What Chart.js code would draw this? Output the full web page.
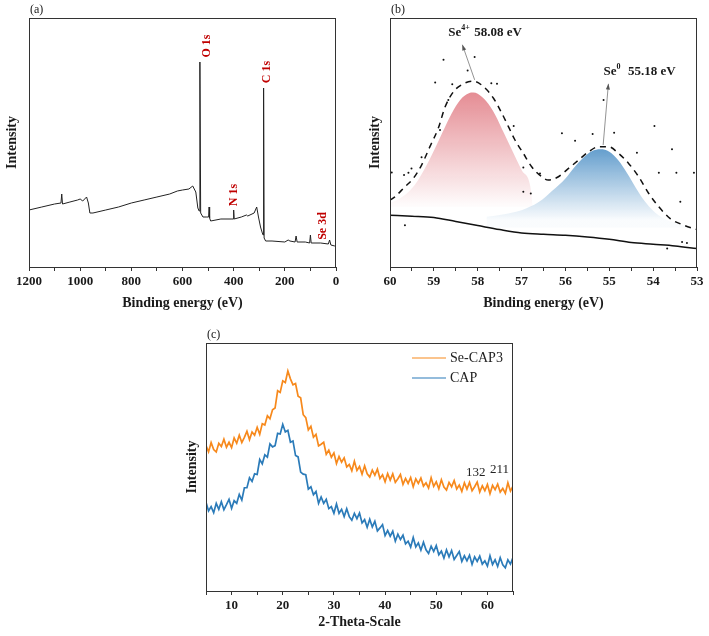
<!DOCTYPE html>
<html>
<head>
<meta charset="utf-8">
<script src="https://cdn.jsdelivr.net/npm/chart.js@4.4.1/dist/chart.umd.min.js"></script>
<style>
body { margin: 0; background: #fff; width: 709px; height: 636px; position: relative; overflow: hidden; }
canvas { position: absolute; }
</style>
</head>
<body>
<canvas id="chartA" width="350" height="316" style="left:0;top:0"></canvas>
<canvas id="chartB" width="346" height="316" style="left:363px;top:0"></canvas>
<canvas id="chartC" width="350" height="318" style="left:180px;top:318px"></canvas>
<script>
// (a) XPS survey spectrum
var surveyEnergy = [1200,1150,1100,1075,1072,1069,1040,1010,1000,990,975,968,962,950,900,850,800,750,700,650,620,600,575,560,548,540,535,532,529,520,505,498,496,494,490,450,410,402,400,398,370,350,345,320,310,303,295,288,285,283,281,275,250,200,187,180,160,156,152,120,103,100,97,60,30,25,20,5,0];
var surveyCounts = [57,60,63,64,73,63,65,67,68,66,70,64,54,54,57,60,64,67,70,73,76,77,78,81,75,59,56,205,54,50,50,50,60,49,46,48,48,48,57,48,50,52,51,54,60,50,40,34,32,179,29,26,26,25,27,26,25,31,25,25,24,32,24,24,23,27,22,21,20];

// (b) Se 3d high resolution
var hrEnergy = [60,59.5,59,58.5,58,57.5,57,56.5,56,55.5,55,54.5,54,53.5,53];
var hrBackground = [155,152,148,136,124,112,102,98,95,90,83,73,68,63,55];
var envEnergy = [60,59.89,59.66,59.47,59.28,59.09,58.9,58.74,58.55,58.33,58.1,57.87,57.64,57.45,57.3,57.15,56.96,56.77,56.54,56.39,56.16,55.93,55.7,55.47,55.24,55.02,54.79,54.56,54.33,54.1,53.87,53.61,53.3,53];
var envFit = [200,210,240,265,305,360,415,480,525,548,556,540,505,460,420,380,340,300,270,260,270,295,320,345,360,360,340,310,270,220,180,145,125,112];
var se4Energy = [60,59.8,59.6,59.4,59.2,59,58.8,58.6,58.4,58.2,58.1,58,57.8,57.6,57.4,57.2,57,56.8,56.75];
var se4Fit = [192,203,222,252,296,348,404,458,500,520,522,518,495,455,400,345,290,240,185];
var se0Energy = [57.8,57.4,57,56.6,56.3,56,55.8,55.6,55.4,55.2,55,54.8,54.6,54.4,54.2,54,53.8,53.6,53.4,53.2];
var se0Fit = [150,158,170,195,228,265,298,326,346,352,345,320,282,238,198,168,148,136,128,122];
var rawEnergy = [58.78,58.07,58.23,58.97,58.58,57.69,57.56,58.67,58.86,57.18,59.28,59.51,59.68,56.96,56.79,59.96,56.08,55.78,55.38,54.89,54.37,53.97,53.87,53.47,53.07,53.57,53.38,53.34,53.23,53.68,59.66,55.13,56.58,56.96,59.58];
var rawCounts = [620,628,588,552,547,550,548,500,410,422,328,295,275,298,220,283,400,378,398,402,342,422,282,282,282,352,195,75,72,55,125,500,280,225,282];

// (c) XRD
var twoTheta = [5,5.5,6,6.5,7,7.5,8,8.5,9,9.5,10,10.5,11,11.5,12,12.5,13,13.5,14,14.5,15,15.5,16,16.5,17,17.5,18,18.5,19,19.5,20,20.5,21,21.5,22,22.5,23,23.5,24,24.5,25,25.5,26,26.5,27,27.5,28,28.5,29,29.5,30,30.5,31,31.5,32,32.5,33,33.5,34,34.5,35,35.5,36,36.5,37,37.5,38,38.5,39,39.5,40,40.5,41,41.5,42,42.5,43,43.5,44,44.5,45,45.5,46,46.5,47,47.5,48,48.5,49,49.5,50,50.5,51,51.5,52,52.5,53,53.5,54,54.5,55,55.5,56,56.5,57,57.5,58,58.5,59,59.5,60,60.5,61,61.5,62,62.5,63,63.5,64,64.5,65];
var seCap3 = [438,419,447,426,419,445,435,457,433,448,432,461,445,469,447,463,481,456,479,469,493,472,504,500,528,519,546,551,603,598,633,628,663,639,621,625,587,582,531,522,485,496,463,472,437,442,448,412,424,403,416,384,405,388,401,374,381,362,391,363,375,352,377,353,343,364,349,367,339,350,329,354,334,353,327,338,351,321,339,324,342,314,338,324,340,316,326,310,341,315,329,308,335,313,304,327,314,333,307,319,300,326,307,327,302,314,328,298,317,302,321,293,318,305,322,298,309,294,326,301,316];
var cap = [267,241,254,236,264,246,269,245,260,276,249,272,264,291,274,311,311,341,330,353,351,396,383,410,403,443,434,438,475,473,502,479,484,448,452,408,404,358,352,350,307,314,290,300,264,283,264,276,248,254,234,262,234,246,224,248,224,213,234,218,235,205,215,192,216,193,210,181,190,200,167,182,165,180,150,171,155,168,142,150,132,161,133,145,123,147,124,113,135,119,137,109,120,99,124,103,122,95,107,119,89,106,91,108,80,103,89,105,81,91,75,106,80,94,74,100,79,70,94,81,101];
var seriesNames = ['Se-CAP3', 'CAP'];

function pts(xs, ys) {
    return xs.map(function (x, i) { return {x: x, y: ys[i]}; });
}

var serif = 'Liberation Serif';
var inkColor = '#1a1a1a';

function frame(letter, extra) {
    return {
        id: 'frame' + letter,
        afterDraw: function (chart) {
            var c = chart.ctx, a = chart.chartArea;
            c.save();
            c.strokeStyle = '#333';
            c.lineWidth = 1;
            c.strokeRect(Math.round(a.left) + 0.5, Math.round(a.top) + 0.5,
                Math.round(a.right - a.left) - 1, Math.round(a.bottom - a.top));
            c.fillStyle = inkColor;
            c.font = '12px "' + serif + '"';
            c.textBaseline = 'middle';
            c.fillText(letter, a.left + 1, a.top - 8);
            if (extra) extra(chart, c);
            c.restore();
        }
    };
}

function xAxis(min, max, step, every, height, title, reverse) {
    return {
        type: 'linear', min: min, max: max, reverse: !!reverse,
        afterFit: function (s) { s.height = height; },
        grid: {display: true, drawOnChartArea: false, drawTicks: true, tickLength: 4, color: '#333'},
        border: {display: false},
        ticks: {
            stepSize: step, autoSkip: false, maxRotation: 0, color: inkColor,
            font: {family: serif, size: 13, weight: 'bold'},
            callback: function (v) { return Math.abs(v / every - Math.round(v / every)) < 1e-6 ? v : ''; }
        },
        title: {display: true, text: title, color: inkColor, font: {family: serif, size: 14, weight: 'bold'}, padding: {top: 2, bottom: 4}}
    };
}

function yAxis(max, width) {
    return {
        min: 0, max: max,
        afterFit: function (s) { s.width = width; },
        grid: {display: false},
        border: {display: false},
        ticks: {display: false},
        title: {display: true, text: 'Intensity', color: inkColor, font: {family: serif, size: 14, weight: 'bold'}, padding: {top: 4, bottom: 4}}
    };
}

var baseOptions = function (xs, ys, pad) {
    return {
        responsive: false, animation: false, devicePixelRatio: 1,
        layout: {padding: pad},
        plugins: {legend: {display: false}, tooltip: {enabled: false}},
        elements: {point: {radius: 0}},
        scales: {x: xs, y: ys}
    };
};

// ---------- (a)
new Chart(document.getElementById('chartA'), {
    type: 'line',
    data: {
        datasets: [{
            data: pts(surveyEnergy, surveyCounts),
            borderColor: '#222', borderWidth: 1, tension: 0
        }]
    },
    options: baseOptions(xAxis(0, 1200, 100, 200, 49, 'Binding energy (eV)', true), yAxis(249, 29), {left: 0, top: 18, right: 14, bottom: 0}),
    plugins: [frame('(a)', function (chart, c) {
        var labels = [['O 1s', 505, 221], ['C 1s', 270, 195], ['N 1s', 400, 72], ['Se 3d', 51, 41]];
        c.fillStyle = '#c00000';
        c.font = 'bold 12px "' + serif + '"';
        c.textAlign = 'center';
        labels.forEach(function (l) {
            c.save();
            c.translate(chart.scales.x.getPixelForValue(l[1]), chart.scales.y.getPixelForValue(l[2]));
            c.rotate(-Math.PI / 2);
            c.fillText(l[0], 0, 0);
            c.restore();
        });
    })]
});

// ---------- (b)
function fade(top, bottom, rgb) {
    return function (context) {
        var chart = context.chart;
        if (!chart.chartArea) return 'rgba(' + rgb + ',0.5)';
        var y = chart.scales.y;
        var g = chart.ctx.createLinearGradient(0, y.getPixelForValue(top), 0, y.getPixelForValue(bottom));
        g.addColorStop(0, 'rgba(' + rgb + ',0.9)');
        g.addColorStop(1, 'rgba(' + rgb + ',0.03)');
        return g;
    };
}

function drawSeLabel(c, x, y, sup, rest) {
    c.font = 'bold 13px "' + serif + '"';
    c.fillText('Se', x, y);
    var w = c.measureText('Se').width;
    c.font = 'bold 8px "' + serif + '"';
    c.fillText(sup, x + w, y - 5);
    var w2 = c.measureText(sup).width;
    c.font = 'bold 13px "' + serif + '"';
    c.fillText(rest, x + w + w2 + 1, y);
}

function arrow(c, x1, y1, x2, y2) {
    c.beginPath();
    c.moveTo(x1, y1);
    c.lineTo(x2, y2);
    c.stroke();
    var ang = Math.atan2(y2 - y1, x2 - x1);
    c.beginPath();
    c.moveTo(x2, y2);
    c.lineTo(x2 - 6 * Math.cos(ang - 0.35), y2 - 6 * Math.sin(ang - 0.35));
    c.lineTo(x2 - 6 * Math.cos(ang + 0.35), y2 - 6 * Math.sin(ang + 0.35));
    c.closePath();
    c.fill();
}

new Chart(document.getElementById('chartB'), {
    type: 'line',
    data: {
        datasets: [
            {data: pts(rawEnergy, rawCounts), showLine: false, pointRadius: 1, pointBorderWidth: 0, pointBackgroundColor: '#111'},
            {data: pts(hrEnergy, hrBackground), borderColor: '#111', borderWidth: 1.5, cubicInterpolationMode: 'monotone'},
            {data: pts(envEnergy, envFit), borderColor: '#111', borderWidth: 1.5, borderDash: [6, 5], cubicInterpolationMode: 'monotone'},
            {data: pts(se0Energy, se0Fit), borderWidth: 0, cubicInterpolationMode: 'monotone',
                fill: {target: {value: 118}}, backgroundColor: fade(352, 140, '84,148,200')},
            {data: pts(se4Energy, se4Fit), borderWidth: 0, cubicInterpolationMode: 'monotone',
                fill: {target: {value: 180}}, backgroundColor: fade(522, 185, '226,128,136')}
        ]
    },
    options: baseOptions(xAxis(53, 60, 0.5, 1, 49, 'Binding energy (eV)', true), yAxis(745, 27), {left: 0, top: 18, right: 12, bottom: 0}),
    plugins: [frame('(b)', function (chart, c) {
        var sx = chart.scales.x, sy = chart.scales.y;
        c.strokeStyle = '#777';
        c.fillStyle = '#555';
        c.lineWidth = 0.8;
        arrow(c, sx.getPixelForValue(58.07), sy.getPixelForValue(560), sx.getPixelForValue(58.35), sy.getPixelForValue(665));
        arrow(c, sx.getPixelForValue(55.14), sy.getPixelForValue(365), sx.getPixelForValue(55.02), sy.getPixelForValue(548));
        c.fillStyle = inkColor;
        c.textAlign = 'left';
        c.textBaseline = 'middle';
        drawSeLabel(c, sx.getPixelForValue(58.67), sy.getPixelForValue(700), '4+', ' 58.08 eV');
        drawSeLabel(c, sx.getPixelForValue(55.13), sy.getPixelForValue(585), '0', '  55.18 eV');
    })]
});

// ---------- (c)
var xrdColors = ['#f7891c', '#2b7bb9'];
new Chart(document.getElementById('chartC'), {
    type: 'line',
    data: {
        datasets: [
            {label: seriesNames[0], data: pts(twoTheta, seCap3), borderColor: xrdColors[0], borderWidth: 1.7, tension: 0},
            {label: seriesNames[1], data: pts(twoTheta, cap), borderColor: xrdColors[1], borderWidth: 1.7, tension: 0}
        ]
    },
    options: baseOptions(xAxis(5, 65, 5, 10, 44, '2-Theta-Scale', false), yAxis(747, 26), {left: 0, top: 25, right: 17, bottom: 1}),
    plugins: [frame('(c)', function (chart, c) {
        var sx = chart.scales.x, sy = chart.scales.y;
        var a = chart.chartArea;
        c.font = '14px "' + serif + '"';
        c.textBaseline = 'middle';
        c.textAlign = 'left';
        seriesNames.forEach(function (name, i) {
            var y = a.top + 15 + i * 20;
            c.strokeStyle = xrdColors[i];
            c.lineWidth = 1.2;
            c.beginPath();
            c.moveTo(a.right - 101, y);
            c.lineTo(a.right - 67, y);
            c.stroke();
            c.fillStyle = '#222';
            c.fillText(name, a.right - 63, y);
        });
        c.font = '13px "' + serif + '"';
        c.fillText('132', sx.getPixelForValue(55.8), sy.getPixelForValue(357));
        c.fillText('211', sx.getPixelForValue(60.5), sy.getPixelForValue(366));
    })]
});
</script>
</body>
</html>
